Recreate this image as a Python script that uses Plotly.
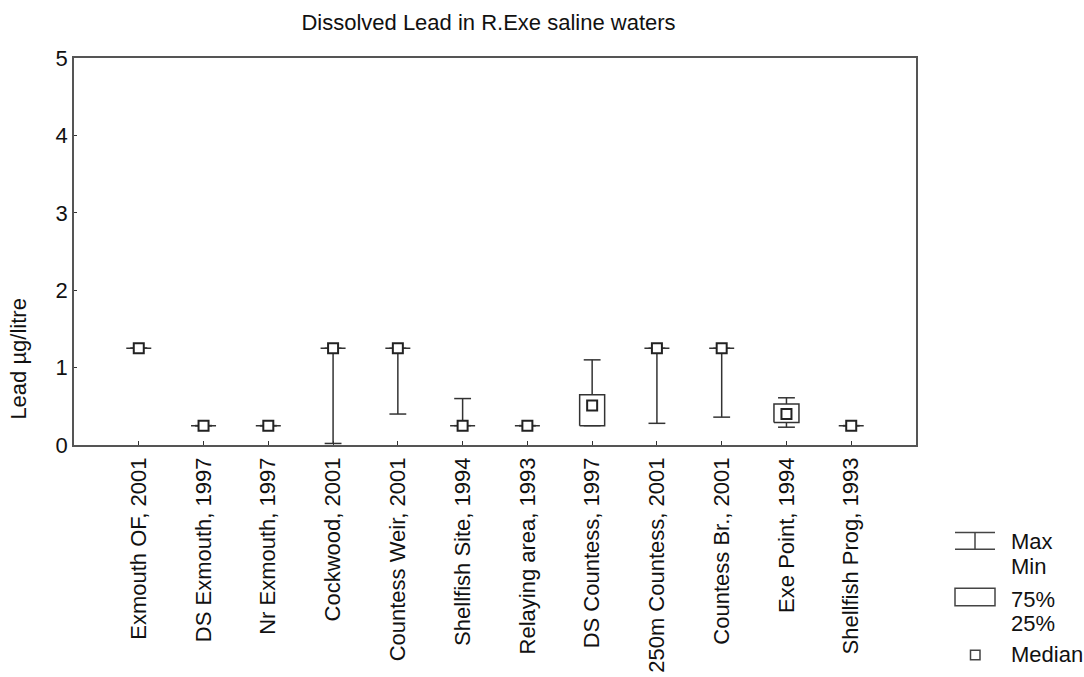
import plotly.graph_objects as go

# ---------------- data ----------------
categories = ["Exmouth OF, 2001", "DS Exmouth, 1997", "Nr Exmouth, 1997", "Cockwood, 2001",
              "Countess Weir, 2001", "Shellfish Site, 1994", "Relaying area, 1993",
              "DS Countess, 1997", "250m Countess, 2001", "Countess Br., 2001",
              "Exe Point, 1994", "Shellfish Prog, 1993"]
v_min = [1.25, 0.25, 0.25, 0.02, 0.40, 0.25, 0.25, 0.25, 0.28, 0.36, 0.23, 0.25]
v_q1 = [1.25, 0.25, 0.25, 1.25, 1.25, 0.25, 0.25, 0.25, 1.25, 1.25, 0.29, 0.25]
v_med = [1.25, 0.25, 0.25, 1.25, 1.25, 0.25, 0.25, 0.51, 1.25, 1.25, 0.40, 0.25]
v_q3 = [1.25, 0.25, 0.25, 1.25, 1.25, 0.25, 0.25, 0.65, 1.25, 1.25, 0.53, 0.25]
v_max = [1.25, 0.25, 0.25, 1.25, 1.25, 0.60, 0.25, 1.10, 1.25, 1.25, 0.61, 0.25]
y_ticks = [0, 1, 2, 3, 4, 5]

FONT = "Liberation Sans, Arial, sans-serif"
FS = 22
TXT = "#111111"
LINE = "#333333"

# geometry helpers (pixels of reference layout)
L, R, T, B = 74, 916, 58, 445.5
W, H = 1084, 677
def px_x(p):
    return (p - L) / (R - L)
def px_y(p):
    return (B - p) / (B - T)

xs = list(range(len(categories)))
cap = 0.13
bw = 0.193

# whiskers
wx, wy = [], []
for i, lo, hi in zip(xs, v_min, v_max):
    wx += [i, i, None, i - cap, i + cap, None, i - cap, i + cap, None]
    wy += [lo, hi, None, lo, lo, None, hi, hi, None]

# boxes
bx, by = [], []
for i, a, b in zip(xs, v_q1, v_q3):
    bx += [i - bw, i + bw, i + bw, i - bw, i - bw, None]
    by += [a, a, b, b, a, None]

fig = go.Figure()
fig.add_trace(go.Scatter(x=wx, y=wy, mode="lines", line=dict(color=LINE, width=1.5),
                         hoverinfo="skip", showlegend=False))
fig.add_trace(go.Scatter(x=bx, y=by, mode="lines", fill="toself", fillcolor="white",
                         line=dict(color=LINE, width=1.5), hoverinfo="skip", showlegend=False))
fig.add_trace(go.Scatter(x=xs, y=v_med, mode="markers",
                         marker=dict(symbol="square", size=10, color="white",
                                     line=dict(color="#222222", width=2)),
                         showlegend=False))

fig.update_layout(
    width=W, height=H,
    margin=dict(l=L, r=W - R, t=T, b=H - B, autoexpand=False),
    paper_bgcolor="white", plot_bgcolor="white",
    font=dict(family=FONT, size=FS, color=TXT),
    showlegend=False,
    title=dict(text="Dissolved Lead in R.Exe saline waters", x=488.5 / W, xref="container",
               xanchor="center", y=1 - 22 / H, yref="container", yanchor="middle",
               font=dict(family=FONT, size=FS, color=TXT)),
)
fig.update_xaxes(range=[-1, len(categories)], tickmode="array", tickvals=xs, ticktext=categories,
                 tickangle=-90, ticks="inside", ticklen=4, tickcolor=LINE,
                 showline=True, mirror=True, linecolor="#555555", linewidth=1.5,
                 showgrid=False, zeroline=False, ticklabelstandoff=2, automargin=False,
                 tickfont=dict(family=FONT, size=FS, color=TXT))
fig.update_yaxes(range=[0, 5], tickmode="array", tickvals=y_ticks,
                 ticks="inside", ticklen=3, tickcolor=LINE,
                 showline=True, mirror=True, linecolor="#555555", linewidth=1.5,
                 showgrid=False, zeroline=False, automargin=False,
                 tickfont=dict(family=FONT, size=FS, color=TXT))

# y axis title
fig.add_annotation(text="Lead µg/litre", textangle=-90, xref="paper", yref="paper",
                   x=px_x(19), y=px_y(359), showarrow=False, xanchor="center", yanchor="middle",
                   font=dict(family=FONT, size=FS, color=TXT))

# custom legend
sh = dict(xref="paper", yref="paper", line=dict(color="#444444", width=1.5))
fig.add_shape(type="line", x0=px_x(955), x1=px_x(995), y0=px_y(533), y1=px_y(533), **sh)
fig.add_shape(type="line", x0=px_x(955), x1=px_x(995), y0=px_y(550), y1=px_y(550), **sh)
fig.add_shape(type="line", x0=px_x(975), x1=px_x(975), y0=px_y(533), y1=px_y(550), **sh)
fig.add_shape(type="rect", x0=px_x(955), x1=px_x(995), y0=px_y(589), y1=px_y(606.5),
              fillcolor="white", **sh)
fig.add_shape(type="rect", x0=px_x(970.5), x1=px_x(980), y0=px_y(651), y1=px_y(660.5),
              fillcolor="white", **sh)
legend_texts = [("Max", 542), ("Min", 567), ("75%", 600), ("25%", 624), ("Median", 655)]
for txt, yy in legend_texts:
    fig.add_annotation(text=txt, xref="paper", yref="paper", x=px_x(1009), y=px_y(yy),
                       xanchor="left", yanchor="middle", showarrow=False,
                       font=dict(family=FONT, size=FS, color=TXT))

fig.write_html("out.html")
